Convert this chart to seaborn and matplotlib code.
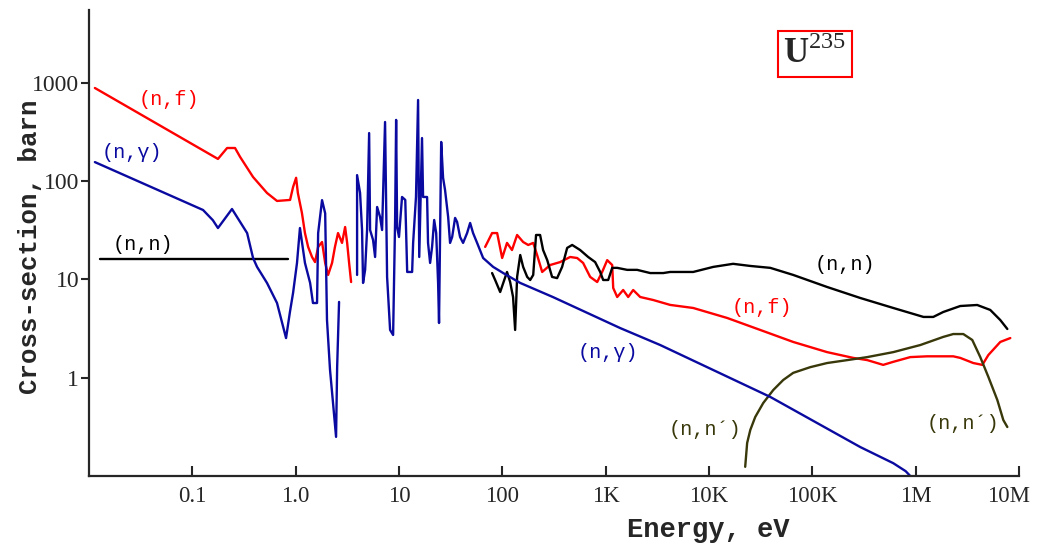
import numpy as np
import pandas as pd
import matplotlib
matplotlib.use("Agg")
import matplotlib.pyplot as plt
import matplotlib.transforms as mtransforms
import seaborn as sns

# (n,gamma) capture, below the gap and from 3.9 eV upwards
capture_lo_e = [0.0114, 0.127, 0.158, 0.177, 0.242, 0.339, 0.387, 0.423, 0.528, 0.66, 0.807, 0.88, 0.944,
                1.03, 1.10, 1.23, 1.38, 1.47, 1.61, 1.65, 1.80, 1.93, 2.01, 2.15, 2.30, 2.46, 2.52, 2.63]
capture_lo_s = [156, 50.8, 40, 33.3, 52, 29.6, 16.5, 13.4, 9.2, 5.75, 2.53, 4.66, 7.3,
                14.7, 33.3, 14.7, 9.2, 5.75, 5.75, 29.6, 64, 47, 3.86, 1.2, 0.55, 0.25, 1.28, 5.9]
capture_hi_e = [3.93, 3.93, 4.20, 4.39, 4.49, 4.70, 4.91, 5.14, 5.25, 5.61, 5.87, 6.14, 6.56, 6.86, 7.33,
                7.67, 8.20, 8.77, 9.17, 9.38, 9.59, 10.0, 10.7, 11.5, 12.0, 13.4, 13.7, 14.6, 15.3, 15.7,
                16.7, 17.1, 18.7, 19.1, 20.0, 20.9, 21.9, 22.9, 23.9, 24.4, 25.6, 26.7, 27.9, 29.9, 31.2,
                32.7, 34.9, 36.5, 39.0, 41.7, 45.6, 48.8, 52.1, 57, 65.2, 81.5, 102, 149, 310, 1380,
                3370, 39200, 291000, 607000, 800000, 887000]
capture_hi_s = [11.1, 115, 75.7, 31.8, 9.2, 12.5, 31.8, 308, 31.8, 25.2, 16.9, 54.5, 43.1, 31.8, 399,
                10.6, 3.06, 2.72, 40.2, 419, 34.1, 27, 68.9, 64.3, 11.9, 11.9, 23.5, 68.9, 668, 16.9,
                274, 68.9, 68.9, 23.5, 14.7, 21.4, 40.2, 29.6, 9.2, 3.6, 250, 108, 81.2, 43.1, 23.5,
                27, 42.2, 38.4, 27, 23.5, 29.6, 37.5, 29.6, 23.5, 16.5, 13.4, 11.6, 9.2, 6.6, 3.2,
                2.15, 0.637, 0.197, 0.135, 0.112, 0.1]

# (n,f) fission
fission_lo_e = [0.0114, 0.177, 0.217, 0.259, 0.29, 0.387, 0.528, 0.66, 0.883, 0.944,
                1.01, 1.05, 1.15, 1.23, 1.32, 1.44, 1.54, 1.65, 1.80, 1.93,
                2.06, 2.25, 2.40, 2.57, 2.81, 3.01, 3.15, 3.29, 3.44]
fission_lo_s = [885, 168, 217, 217, 176, 110, 75.7, 62.8, 64.3, 87,
                108, 75.7, 47.3, 29.6, 21.4, 16.9, 15.0, 21.4, 24, 14.7,
                11.1, 14.7, 21.4, 29.6, 23.5, 34.1, 23.5, 14.7, 9.4]
fission_hi_e = [68.2, 79.6, 89.1, 99.6, 111, 124, 139, 159, 178, 199, 217, 243, 290, 363, 453,
                530, 605, 708, 828, 925, 1035, 1157, 1183, 1293, 1477, 1652, 1846, 2158, 2884, 4210,
                7030, 15000, 31300, 65300, 139000, 249000, 340000, 485000, 607000, 887000,
                1.29e6, 2.31e6, 2.7e6, 3.61e6, 4.42e6, 5.05e6, 6.59e6, 8.24e6]
fission_hi_s = [21.4, 29.6, 29.6, 16.5, 23.5, 19.9, 28.3, 24, 22.4, 23.5, 17.7, 11.9, 14.0, 15.0, 16.9,
                16.5, 14.7, 10.6, 9.4, 11.9, 15.7, 14.0, 8.18, 6.62, 7.8, 6.62, 7.8, 6.62, 6.17, 5.5,
                5.12, 4.05, 3.06, 2.31, 1.82, 1.59, 1.51, 1.35, 1.45, 1.62,
                1.65, 1.65, 1.59, 1.41, 1.35, 1.70, 2.31, 2.53]

# (n,n) elastic
elastic_lo_e = [0.0128, 0.843]
elastic_lo_s = [16.1, 16.1]
elastic_hi_e = [79.6, 85.2, 95.3, 102, 111, 119, 127, 133, 139, 149, 159, 174, 186, 199, 212,
                232, 248, 272, 303, 339, 379, 424, 474, 566, 677, 791, 885, 946, 1058, 1157,
                1293, 1616, 2018, 2698, 3606, 4210, 7030, 11000, 17100, 25100, 39200, 65300, 139000,
                291000, 607000, 1.19e6, 1.48e6, 1.85e6, 2.7e6, 3.94e6, 5.27e6, 6.59e6, 7.71e6]
elastic_hi_s = [11.6, 9.86, 7.44, 9.18, 11.9, 9.41, 6.62, 3.06, 10.6, 17.7, 13.4, 10.6, 9.86, 11.1, 28.3,
                28.3, 19.9, 15.7, 10.6, 10.3, 13.4, 20.9, 22.4, 19.9, 16.9, 15.0, 11.9, 9.86, 9.86, 13.1,
                13.1, 12.5, 12.5, 11.6, 11.6, 11.9, 11.9, 13.4, 14.4, 13.7, 13.1, 11.1, 8.37,
                6.47, 5.12, 4.15, 4.15, 4.66, 5.36, 5.49, 4.89, 3.86, 3.13]

# (n,n') inelastic
inelastic_e = [22400, 23400, 25100, 28000, 33500, 41900, 52300, 65300, 95500, 139000, 218000, 340000,
               607000, 1.11e6, 1.85e6, 2.31e6, 2.89e6, 3.53e6, 4.22e6, 5.05e6, 6.17e6, 7.05e6, 7.71e6]
inelastic_s = [0.124, 0.217, 0.294, 0.398, 0.553, 0.75, 0.948, 1.12, 1.28, 1.41, 1.51, 1.62,
               1.82, 2.15, 2.6, 2.78, 2.78, 2.42, 1.62, 1.02, 0.593, 0.371, 0.315]

x_ticks = [0.1, 1, 10, 100, 1e3, 1e4, 1e5, 1e6, 1e7]
x_tick_labels = ["0.1", "1.0", "10", "100", "1K", "10K", "100K", "1M", "10M"]
y_ticks = [1, 10, 100, 1000]
y_tick_labels = ["1", "10", "100", "1000"]


def make_frame(reaction, segments):
    parts = []
    for i, (e, s) in enumerate(segments):
        parts.append(pd.DataFrame({"energy": e, "sigma": s, "reaction": reaction, "seg": i}))
    return pd.concat(parts, ignore_index=True)


df = pd.concat([
    make_frame("fission", [(fission_lo_e, fission_lo_s), (fission_hi_e, fission_hi_s)]),
    make_frame("elastic", [(elastic_lo_e, elastic_lo_s), (elastic_hi_e, elastic_hi_s)]),
    make_frame("inelastic", [(inelastic_e, inelastic_s)]),
    make_frame("capture", [(capture_lo_e, capture_lo_s), (capture_hi_e, capture_hi_s)]),
], ignore_index=True)

colors = {"fission": "#ff0000", "elastic": "#000000", "inelastic": "#38380a", "capture": "#0a0aa0"}

sns.set_style("ticks")
plt.rcParams["font.family"] = ["Liberation Serif", "DejaVu Serif"]
plt.rcParams["mathtext.fontset"] = "custom"
plt.rcParams["mathtext.rm"] = "Liberation Serif"
plt.rcParams["mathtext.bf"] = "Liberation Serif:bold"

fig = plt.figure(figsize=(10.39, 5.49), dpi=100)
ax = fig.add_axes([89 / 1039, 73 / 549, 930 / 1039, 466 / 549])

for reaction in ["fission", "elastic", "inelastic", "capture"]:
    sns.lineplot(data=df[df.reaction == reaction], x="energy", y="sigma", units="seg",
                 estimator=None, sort=False, color=colors[reaction], lw=1.7, ax=ax)

ax.set(xscale="log", yscale="log")
ax.set_xlim(0.01, 1e7)
ax.set_ylim(0.1, 5500)
ax.set_xticks(x_ticks)
ax.set_xticklabels(x_tick_labels)
ax.set_yticks(y_ticks)
ax.set_yticklabels(y_tick_labels)
ax.minorticks_off()
ax.tick_params(axis="x", direction="in", length=7, width=1.5, labelsize=16.5, pad=7)
ax.tick_params(axis="y", direction="out", length=6, width=1.5, labelsize=17, pad=1)
# last x label sits a little left of its tick, as in the original
last = ax.get_xticklabels()[-1]
last.set_transform(last.get_transform() + mtransforms.ScaledTranslation(-0.1, 0, fig.dpi_scale_trans))
for side in ["top", "right"]:
    ax.spines[side].set_visible(False)
for side in ["left", "bottom"]:
    ax.spines[side].set_linewidth(1.6)
ax.set_xlabel("")
ax.set_ylabel("")

mono = ["Liberation Mono", "DejaVu Sans Mono"]
fig.text(30 / 1039, 1 - 247 / 549, "Cross-section, barn", rotation=90, ha="center", va="center",
         family=mono, fontweight="bold", fontsize=18.5)
fig.text(708 / 1039, 1 - 530 / 549, "Energy, eV", ha="center", va="center",
         family=mono, fontweight="bold", fontsize=19.5)

labels = [
    ("(n,f)", 0.086, 0.807, "fission"),
    ("(n,γ)", 0.046, 0.695, "capture"),
    ("(n,n)", 0.058, 0.496, "elastic"),
    ("(n,n)", 0.813, 0.453, "elastic"),
    ("(n,f)", 0.724, 0.361, "fission"),
    ("(n,γ)", 0.558, 0.266, "capture"),
    ("(n,n´)", 0.662, 0.099, "inelastic"),
    ("(n,n´)", 0.940, 0.112, "inelastic"),
]
for txt, xa, ya, reaction in labels:
    ax.text(xa, ya, txt, transform=ax.transAxes, ha="center", va="center",
            family=mono, fontsize=14.5, color=colors[reaction])

fig.text(815 / 1039, 1 - 54 / 549, r"$\mathbf{U}^{\mathrm{235}}$", ha="center", va="center",
         fontsize=25, bbox=dict(facecolor="white", edgecolor="red", lw=1.5, pad=4))

fig.savefig("out.png", dpi=100)
